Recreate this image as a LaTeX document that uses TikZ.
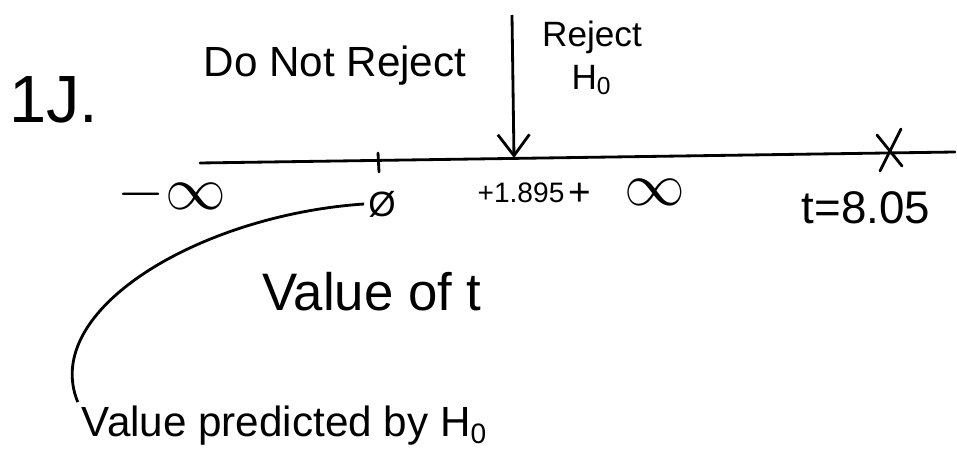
\documentclass[tikz,border=0pt]{standalone}
\usepackage{fontspec}
\setmainfont{Liberation Sans}
\usetikzlibrary{arrows.meta}
\tikzset{
  hand/.style={font=\fontsize{12}{14}\selectfont, inner sep=1pt},
  largehand/.style={font=\fontsize{15}{17}\selectfont, inner sep=1pt},
  bighand/.style={font=\fontsize{19}{21}\selectfont, inner sep=1pt},
  smallhand/.style={font=\fontsize{10}{12}\selectfont, inner sep=1pt},
  tinyhand/.style={font=\fontsize{8}{10}\selectfont, inner sep=1pt},
  infhand/.style={font=\fontsize{17}{19}\selectfont, inner sep=1pt},
  axisline/.style={thick, line cap=round},
  pointer/.style={-{Straight Barb[length=6pt, width=9pt]}, thick},
}
\begin{document}
\begin{tikzpicture}[x=0.01cm, y=-0.01cm]
  \useasboundingbox (0,0) rectangle (957,455);

  %% ---- NUMBER LINE ----
  \coordinate (lineL) at (200,163);
  \coordinate (lineR) at (955,152);
  \coordinate (crit) at (514,158);
  \coordinate (arrtop) at (512,15);
  \draw[axisline] (lineL) -- (lineR);
  \draw[axisline] (378,153) -- (379,172);
  \draw[axisline] (877,135) -- (902,166);
  \draw[axisline] (901,129) -- (880,171);
  \draw[pointer] (arrtop) -- (crit);

  %% ---- LABELS ----
  \node[bighand] (item) at (54,100) {1J.};
  \node[hand] (keep) at (335,66) {Do Not Reject};
  \node[smallhand, align=center] (rej) at (592,58) {Reject\\H\textsubscript{0}};
  \node[infhand] (minf) at (172,194) {$-\infty$};
  \node[smallhand] (zero) at (382,204) {\O};
  \node[tinyhand] (cval) at (521,193) {+1.895};
  \node[infhand] (pinf) at (627,192) {{\fontsize{11}{12}\selectfont+}\ \ $\infty$};
  \node[hand, font=\fontsize{13}{15}\selectfont] (tobs) at (866,208) {t=8.05};
  \node[largehand] (xlab) at (372,292) {Value of t};
  \node[hand] (hyp) at (285,426) {Value predicted by H\textsubscript{0}};

  %% ---- POINTER CURVE ----
  \draw[thick] (zero.west) .. controls (200,215) and (40,310) .. (hyp.north west);

\end{tikzpicture}
\end{document}
